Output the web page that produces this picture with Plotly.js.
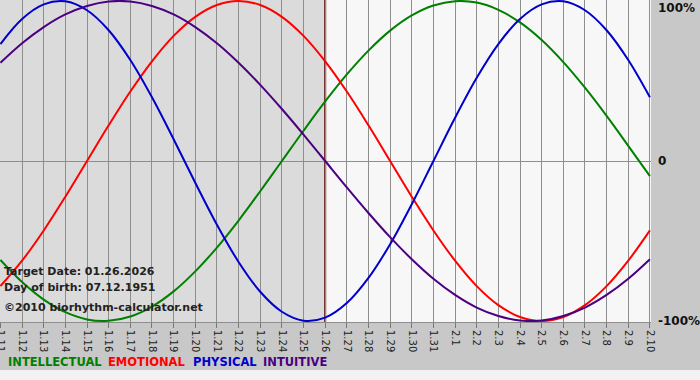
<!DOCTYPE html>
<html>
<head>
<meta charset="utf-8">
<script src="https://cdn.plot.ly/plotly-3.0.1.min.js"></script>
<style>html,body{margin:0;padding:0;background:#fff;}#chart{width:700px;height:380px;}</style>
</head>
<body>
<div id="chart"></div>
<script>
// Dates (day index 0..30)
const dateLabels = ["1.11","1.12","1.13","1.14","1.15","1.16","1.17","1.18","1.19","1.20","1.21","1.22","1.23","1.24","1.25","1.26","1.27","1.28","1.29","1.30","1.31","2.1","2.2","2.3","2.4","2.5","2.6","2.7","2.8","2.9","2.10"];
const targetLabel = "1.26";
// Series values in percent, read per day
const intellectual = [-61.8,-75.6,-86.6,-94.5,-99.0,-99.9,-97.2,-91.0,-81.5,-69.0,-54.1,-37.2,-18.9,0,18.9,37.2,54.1,69.0,81.5,91.0,97.2,99.9,99.0,94.5,86.6,75.6,61.8,45.8,28.2,9.5,-9.5];
const emotional    = [-78.2,-62.3,-43.4,-22.3,0,22.3,43.4,62.3,78.2,90.1,97.5,100,97.5,90.1,78.2,62.3,43.4,22.3,0,-22.3,-43.4,-62.3,-78.2,-90.1,-97.5,-100,-97.5,-90.1,-78.2,-62.3,-43.4];
const physical     = [73.1,88.8,97.9,99.8,94.2,81.7,63.1,39.8,13.6,-13.6,-39.8,-63.1,-81.7,-94.2,-99.8,-97.9,-88.8,-73.1,-52.0,-27.0,0,27.0,52.0,73.1,88.8,97.9,99.8,94.2,81.7,63.1,39.8];
const intuitive    = [61.4,73.6,83.7,91.6,96.9,99.7,99.7,96.9,91.6,83.7,73.6,61.4,47.6,32.5,16.5,0,-16.5,-32.5,-47.6,-61.4,-73.6,-83.7,-91.6,-96.9,-99.7,-99.7,-96.9,-91.6,-83.7,-73.6,-61.4];
const yTickLabels = ["100%","0","-100%"];
const yTickVals = [100,0,-100];

const idx = dateLabels.map((_, i) => i);
const tIdx = dateLabels.indexOf(targetLabel);

const series = [
  {name:"INTELLECTUAL", y:intellectual, color:"#008000", legendX:7},
  {name:"EMOTIONAL", y:emotional, color:"#ff0000", legendX:107},
  {name:"PHYSICAL", y:physical, color:"#0000cc", legendX:192},
  {name:"INTUITIVE", y:intuitive, color:"#4b0082", legendX:262}
];

const traces = series.map(s => ({
  x: idx, y: s.y, type: "scatter", mode: "lines", name: s.name,
  line: {color: s.color, width: 2, shape: "spline", smoothing: 1},
  hoverinfo: "skip"
}));

const font = "DejaVu Sans, Verdana, sans-serif";
const plotW = 651;

const annotations = [
  {xref:"paper", yref:"y", x:0, y:-68.75, xanchor:"left", yanchor:"middle", xshift:2, showarrow:false,
   text:"<b>Target Date: 01.26.2026</b>", font:{family:font, size:11, color:"#222"}},
  {xref:"paper", yref:"y", x:0, y:-78.75, xanchor:"left", yanchor:"middle", xshift:2, showarrow:false,
   text:"<b>Day of birth: 07.12.1951</b>", font:{family:font, size:11, color:"#222"}},
  {xref:"paper", yref:"y", x:0, y:-91.25, xanchor:"left", yanchor:"middle", xshift:2, showarrow:false,
   text:"<b>©2010 biorhythm-calculator.net</b>", font:{family:font, size:11, color:"#222"}}
];
series.forEach(s => {
  annotations.push({xref:"paper", yref:"paper", x:s.legendX / plotW, y:-0.124, xanchor:"left", yanchor:"middle",
    showarrow:false, borderpad:0, text:"<b>" + s.name + "</b>", font:{family:font, size:11.5, color:s.color}});
});
yTickVals.forEach((v, i) => {
  annotations.push({xref:"paper", yref:"y", x:1, y:v, xanchor:"left", yanchor:"middle",
    xshift:5, yshift: v === 100 ? -7 : 0, showarrow:false,
    text:"<b>" + yTickLabels[i] + "</b>", font:{family:font, size:12, color:"#111"}});
});

const layout = {
  width: 700, height: 380,
  margin: {l:0, r:49, t:0, b:58, pad:0},
  paper_bgcolor: "#c8c8c8",
  plot_bgcolor: "#f7f7f7",
  showlegend: false,
  font: {family: font},
  xaxis: {
    range: [-0.02, 30.05], tickmode: "array", tickvals: idx, ticktext: dateLabels,
    tickangle: 90, ticks: "outside", ticklen: 5, tickcolor: "#777",
    ticklabeloverflow: "allow",
    tickfont: {family: font, size: 10, color: "#222"},
    showgrid: true, gridcolor: "#8e8e8e", gridwidth: 1, zeroline: false,
    showline: true, linecolor: "#8e8e8e", linewidth: 1, fixedrange: true
  },
  yaxis: {
    range: [-100.625, 100.625], tickmode: "array", tickvals: [0], showticklabels: false,
    showgrid: true, gridcolor: "#8e8e8e", gridwidth: 1, zeroline: false, fixedrange: true
  },
  shapes: [
    {type:"rect", xref:"x", yref:"paper", x0:-0.02, x1:tIdx, y0:0, y1:1, fillcolor:"#dbdbdb", line:{width:0}, layer:"below"},
    {type:"rect", xref:"paper", yref:"paper", x0:0, x1:1.08, y0:-0.149, y1:-0.19, fillcolor:"#f2f2f2", line:{width:0}, layer:"below"},
    {type:"line", xref:"x", yref:"paper", x0:tIdx, x1:tIdx, y0:0, y1:1, line:{color:"#5e1010", width:2}, layer:"between"}
  ],
  annotations: annotations
};

Plotly.newPlot("chart", traces, layout, {staticPlot: true, displayModeBar: false});
</script>
</body>
</html>
